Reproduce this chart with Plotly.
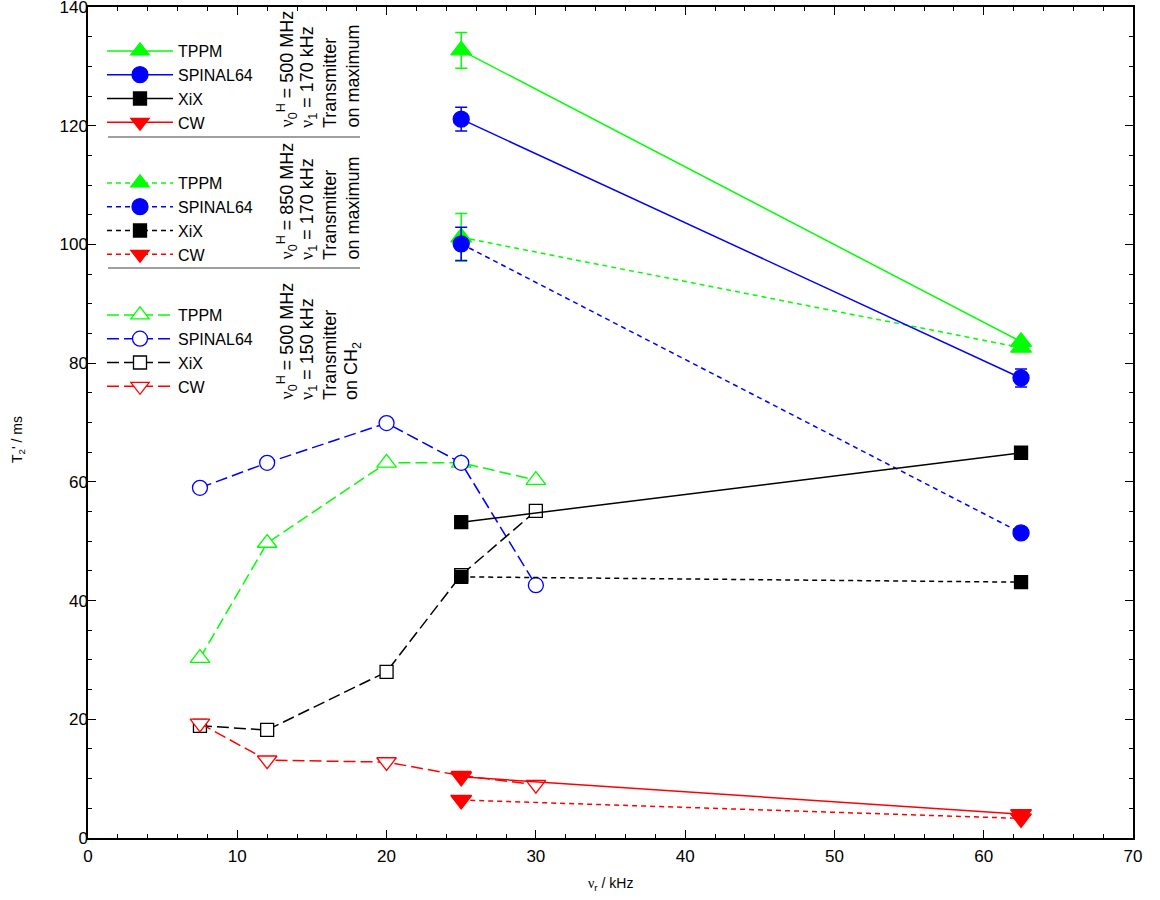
import plotly.graph_objects as go

# ---------------- data ----------------
x_fast = [25, 62.5]
tppm_500 = [132.7, 83.6]
tppm_500_err = [3.0, 0.0]
spinal_500 = [121.1, 77.5]
spinal_500_err = [2.0, 1.5]
xix_500 = [53.2, 64.9]
cw_500 = [10.3, 4.0]

tppm_850 = [101.2, 82.6]
tppm_850_err = [4.0, 0.0]
spinal_850 = [100.1, 51.4]
spinal_850_err = [2.8, 0.0]
xix_850 = [44.0, 43.1]
cw_850 = [6.4, 3.3]

x_ch2 = [7.5, 12, 20, 25, 30]
tppm_ch2 = [30.3, 49.7, 63.2, 63.2, 60.3]
spinal_ch2 = [59.0, 63.2, 69.9, 63.2, 42.6]
xix_ch2 = [18.9, 18.2, 28.0, 44.3, 55.1]
cw_ch2 = [19.3, 13.1, 12.8, 10.5, 9.0]

x_ticks = [0, 10, 20, 30, 40, 50, 60, 70]
y_ticks = [0, 20, 40, 60, 80, 100, 120, 140]

GREEN = "#00ff00"
BLUE = "#0000ff"
BLACK = "#000000"
RED = "#ff0000"

FONT = "Liberation Sans, Arial, sans-serif"
NU = '<span style="font-family:Liberation Serif">ν</span>'

fig = go.Figure()

def add(x, y, name, color, symbol, size, dash, legend, filled=True, err=None):
    marker = dict(symbol=symbol, size=size, color=color if filled else "white",
                  line=dict(color=color, width=1.3))
    kw = {}
    if err is not None:
        kw["error_y"] = dict(type="data", array=err, visible=True, color=color,
                             thickness=1.5, width=6)
    fig.add_trace(go.Scatter(x=x, y=y, name=name, mode="lines+markers",
                             line=dict(color=color, width=1.5, dash=dash),
                             marker=marker, legend=legend, **kw))

# group 3 (CH2, dashed open) drawn first
LD = "12px,5px"
add(x_ch2, tppm_ch2, "TPPM", GREEN, "triangle-up", 17, LD, "legend3", filled=False)
add(x_ch2, spinal_ch2, "SPINAL64", BLUE, "circle", 15, LD, "legend3", filled=False)
add(x_ch2, xix_ch2, "XiX", BLACK, "square", 13, LD, "legend3", filled=False)
add(x_ch2, cw_ch2, "CW", RED, "triangle-down", 17, LD, "legend3", filled=False)

SD = "5px,4px"
add(x_fast, tppm_850, "TPPM", GREEN, "triangle-up", 18, SD, "legend2", err=tppm_850_err)
add(x_fast, spinal_850, "SPINAL64", BLUE, "circle", 16, SD, "legend2", err=spinal_850_err)
add(x_fast, xix_850, "XiX", BLACK, "square", 13, SD, "legend2")
add(x_fast, cw_850, "CW", RED, "triangle-down", 18, SD, "legend2")

add(x_fast, tppm_500, "TPPM", GREEN, "triangle-up", 18, "solid", "legend", err=tppm_500_err)
add(x_fast, spinal_500, "SPINAL64", BLUE, "circle", 16, "solid", "legend", err=spinal_500_err)
add(x_fast, xix_500, "XiX", BLACK, "square", 13, "solid", "legend")
add(x_fast, cw_500, "CW", RED, "triangle-down", 18, "solid", "legend")

W, H = 1160, 900
L, T = 88, 7
PW, PH = 1045, 831
R, B = W - L - PW, H - T - PH
X0, Y1 = L, T + PH   # plot area left / bottom in pixels

def px(xp):
    return (xp - X0) / PW

def py(yp):
    return (Y1 - yp) / PH

leg_common = dict(bgcolor="rgba(0,0,0,0)", borderwidth=0, itemwidth=66,
                  font=dict(family=FONT, size=16, color="black"),
                  xanchor="left", yanchor="top", tracegroupgap=0,
                  traceorder="normal", itemclick=False)

axis_common = dict(ticks="inside", ticklen=8, tickwidth=1.2, tickcolor="black",
                   showline=True, linecolor="black", linewidth=1.5,
                   mirror="ticks", showgrid=False, zeroline=False,
                   automargin=False, ticklabeloverflow="allow",
                   tickfont=dict(family=FONT, size=17))

fig.update_layout(
    width=W, height=H,
    margin=dict(l=L, r=R, t=T, b=B, pad=0),
    plot_bgcolor="white", paper_bgcolor="white",
    font=dict(family=FONT, size=14, color="black"),
    showlegend=True,
    legend=dict(x=px(102), y=py(34), **leg_common),
    legend2=dict(x=px(102), y=py(166), **leg_common),
    legend3=dict(x=px(102), y=py(298), **leg_common),
    xaxis=dict(range=[0, 70], tickvals=x_ticks, ticklabelstandoff=2,
               minor=dict(dtick=2, ticks="inside", ticklen=4, tickcolor="black",
                          tickwidth=1, showgrid=False),
               **axis_common),
    yaxis=dict(range=[0, 140], tickvals=y_ticks, ticklabelstandoff=-5,
               minor=dict(dtick=5, ticks="inside", ticklen=4, tickcolor="black",
                          tickwidth=1, showgrid=False),
               **axis_common),
)

# axis titles
fig.add_annotation(xref="paper", yref="paper", x=px(18), y=py(440),
                   text="T<sub>2</sub>' / ms", textangle=-90, showarrow=False,
                   font=dict(family=FONT, size=14), xanchor="center", yanchor="middle")
fig.add_annotation(xref="paper", yref="paper", x=0.5, y=py(884),
                   text=NU + "<sub>r</sub> / kHz", showarrow=False,
                   font=dict(family=FONT, size=14), xanchor="center", yanchor="middle")

# separators between legend groups
for yp in (137, 268):
    fig.add_shape(type="line", xref="paper", yref="paper",
                  x0=px(108), x1=px(360), y0=py(yp), y1=py(yp),
                  line=dict(color="#808080", width=1.5))

# rotated condition labels (one annotation per line)
groups = [
    (["%s<sub>0</sub><sup>H</sup> = 500 MHz" % NU, "%s<sub>1</sub> = 170 kHz" % NU,
      "Transmitter", "on maximum"], 130),
    (["%s<sub>0</sub><sup>H</sup> = 850 MHz" % NU, "%s<sub>1</sub> = 170 kHz" % NU,
      "Transmitter", "on maximum"], 262),
    (["%s<sub>0</sub><sup>H</sup> = 500 MHz" % NU, "%s<sub>1</sub> = 150 kHz" % NU,
      "Transmitter", "on CH<sub>2</sub>"], 402),
]
col_x = [287, 308, 330, 352]
for lines, ybottom in groups:
    for text, xc in zip(lines, col_x):
        fig.add_annotation(xref="paper", yref="paper", x=px(xc), y=py(ybottom),
                           text=text, textangle=-90, showarrow=False,
                           font=dict(family=FONT, size=18, color="black"),
                           xanchor="center", yanchor="bottom")

# remove the page's default body margin so the figure fills the window exactly
fig.write_html("out.html",
               config={"displayModeBar": False},
               post_script="document.body.style.margin='0';document.body.style.overflow='hidden';")
